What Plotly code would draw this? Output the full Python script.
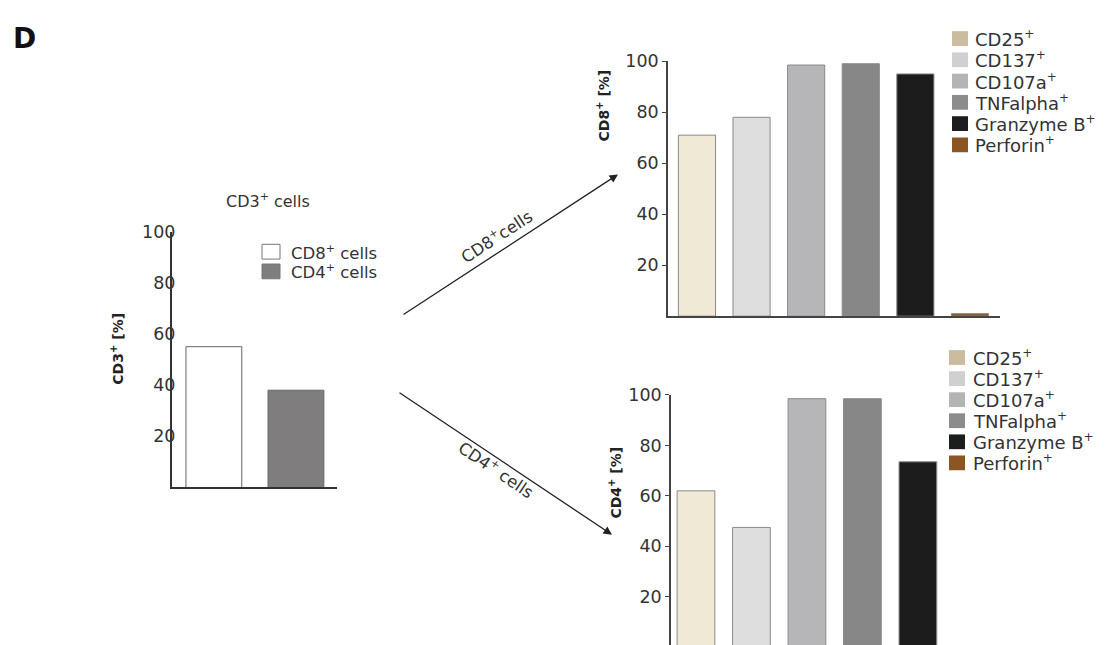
import plotly.graph_objects as go

W, H = 1114, 645

# ---- data ----
cd3_groups = ["CD8+ cells", "CD4+ cells"]
cd3_values = [55, 38]

markers = ["CD25", "CD137", "CD107a", "TNFalpha", "Granzyme B", "Perforin"]
cd8_values = [71, 78, 98.5, 99, 95, 1]
cd4_values = [62, 47.5, 98.5, 98.5, 73.5, 0]
yticks = [20, 40, 60, 80, 100]

# ---- styling ----
FONT = "DejaVu Sans, Liberation Sans, Arial, sans-serif"
TXT = "#333333"
cd3_fill = ["#ffffff", "#7f7d7d"]
bar_fill = ["#f0e9d6", "#dedede", "#b6b6b8", "#878787", "#1c1c1c", "#8b5a2b"]
swatch_fill = ["#cbbb9f", "#d0d0d0", "#b4b4b4", "#8c8c8c", "#1b1d1f", "#8b5524"]


def px(x):
    return x / W


def py(y):
    return 1 - y / H


def plus(size):
    # small raised "+" used in the marker names
    return f'<sup><span style="font-size:{size}px">+</span></sup>'


fig = go.Figure()

fig.add_trace(go.Bar(x=cd3_groups, y=cd3_values, width=0.68,
                     marker=dict(color=cd3_fill, line=dict(color="#666666", width=1)),
                     xaxis="x", yaxis="y", showlegend=False, hoverinfo="x+y"))
fig.add_trace(go.Bar(x=markers, y=cd8_values, width=0.68,
                     marker=dict(color=bar_fill, line=dict(color="#8a8a8a", width=1)),
                     xaxis="x2", yaxis="y2", showlegend=False, hoverinfo="x+y"))
fig.add_trace(go.Bar(x=markers, y=cd4_values, width=0.68,
                     marker=dict(color=bar_fill, line=dict(color="#8a8a8a", width=1)),
                     xaxis="x3", yaxis="y3", showlegend=False, hoverinfo="x+y"))

xcommon = dict(showgrid=False, zeroline=False, showticklabels=False, ticks="",
               type="category", fixedrange=True)
ycommon = dict(showgrid=False, zeroline=False, tickvals=yticks, fixedrange=True,
               tickfont=dict(family=FONT, size=17.5, color=TXT))

fig.update_layout(
    width=W, height=H,
    margin=dict(l=0, r=0, t=0, b=0),
    paper_bgcolor="white", plot_bgcolor="white",
    font=dict(family=FONT, color=TXT),
    bargap=0.32,
    # CD3+ overview
    xaxis=dict(domain=[px(172), px(337)], range=[-0.51, 1.5], anchor="y",
               showline=True, linecolor="#333333", linewidth=1.5, **xcommon),
    yaxis=dict(domain=[py(485), py(225)], range=[0, 100], anchor="x",
               showline=True, linecolor="#333333", linewidth=2, ticks="",
               ticklabelstandoff=-9, **ycommon),
    # CD8+ subset
    xaxis2=dict(domain=[px(668), px(1000)], range=[-0.53, 5.55], anchor="y2",
                showline=True, linecolor="#444444", linewidth=1.5, **xcommon),
    yaxis2=dict(domain=[py(311), py(52)], range=[0, 100], anchor="x2",
                showline=True, linecolor="#444444", linewidth=1.5, ticks="outside",
                ticklen=4, tickcolor="#444444", **ycommon),
    # CD4+ subset
    xaxis3=dict(domain=[px(671), px(1010)], range=[-0.45, 5.66], anchor="y3",
                showline=False, **xcommon),
    yaxis3=dict(domain=[0, py(391)], range=[0.9, 100], anchor="x3",
                showline=True, linecolor="#444444", linewidth=1.5, ticks="outside",
                ticklen=4, tickcolor="#444444", **ycommon),
)

ann = []
shapes = []


def text(x, y, s, size=18, bold=False, angle=0, xanchor="center", color=TXT):
    ann.append(dict(x=px(x), y=py(y), xref="paper", yref="paper", text=s,
                    showarrow=False, xanchor=xanchor, yanchor="middle",
                    textangle=angle,
                    font=dict(family=FONT, size=size, color=color,
                              weight="bold" if bold else "normal")))


# panel letter
text(24, 29, "D", size=28, bold=True, color="#111111")

# CD3 panel title, axis titles and legend
text(268, 193, f"CD3{plus(11)} cells", size=16)
text(117, 344, f"CD3{plus(10)} [%]", size=14, bold=True, angle=-90, color="#222222")
text(604, 97, f"CD8{plus(10)} [%]", size=14, bold=True, angle=-90, color="#222222")
text(615, 480, f"CD4{plus(10)} [%]", size=14, bold=True, angle=-90, color="#222222")

cd3_legend_rows = [(238, 253), (258, 273)]
for (y0, y1), label, col in zip(cd3_legend_rows, cd3_groups, cd3_fill):
    shapes.append(dict(type="rect", xref="paper", yref="paper",
                       x0=px(262), x1=px(280), y0=py(y1), y1=py(y0),
                       fillcolor=col, line=dict(color="#777777", width=1)))
    name, rest = label.split("+")
    text(289, (y0 + y1) / 2 + 0.5, f"{name}{plus(11)}{rest}", size=16.5, xanchor="left")


def marker_legend(x_sw, x_txt, y_first, step):
    for i, (m, col) in enumerate(zip(markers, swatch_fill)):
        yc = y_first + i * step
        shapes.append(dict(type="rect", xref="paper", yref="paper",
                           x0=px(x_sw), x1=px(x_sw + 16), y0=py(yc + 7.5), y1=py(yc - 7.5),
                           fillcolor=col, line=dict(width=0)))
        text(x_txt, yc, f"{m}{plus(12)}", size=18, xanchor="left")


marker_legend(952, 973, 29, 21.6)
marker_legend(949, 971, 353, 21.4)

# arrows leading from the CD3 panel to the subsets
for tip, tail in [((618, 167), (402, 308)), ((612, 533), (398, 390))]:
    ann.append(dict(x=px(tip[0]), y=py(tip[1]), xref="paper", yref="paper",
                    ax=tail[0] - tip[0], ay=tail[1] - tip[1], axref="pixel", ayref="pixel",
                    text="", showarrow=True, arrowhead=2, arrowsize=1.3,
                    arrowwidth=1.3, arrowcolor="#222222"))

text(496, 230, f"CD8{plus(11)}cells", size=16.5, angle=-33)
text(496, 467, f"CD4{plus(11)} cells", size=16.5, angle=34)

fig.update_layout(annotations=ann, shapes=shapes)

fig.write_html("out.html")
